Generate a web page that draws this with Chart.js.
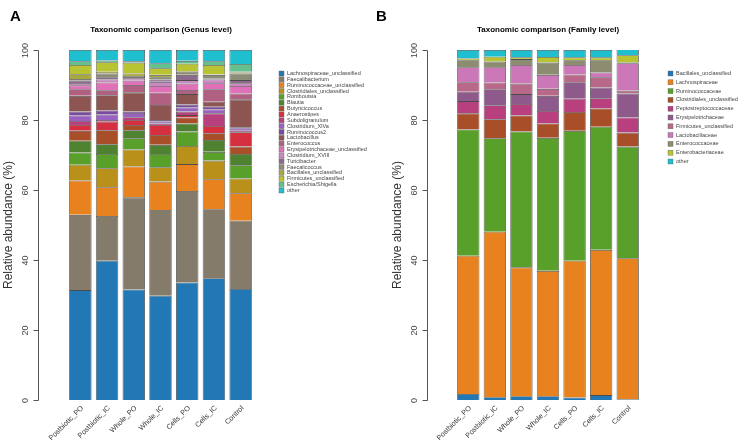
<!DOCTYPE html>
<html><head><meta charset="utf-8">
<script src="https://cdn.jsdelivr.net/npm/chart.js@4.4.0/dist/chart.umd.min.js"></script>
<style>
html,body{margin:0;padding:0;background:#fff;}
#wrap{position:relative;width:740px;height:440px;overflow:hidden;}
canvas{position:absolute;top:0;}
#ca{left:0;} #cb{left:370px;}
</style></head><body>
<div id="wrap"><canvas id="ca" width="370" height="440"></canvas><canvas id="cb" width="370" height="440"></canvas></div>
<script>
const samples = ["Postbiotic_PO","Postbiotic_IC","Whole_PO","Whole_IC","Cells_PO","Cells_IC","Control"];
const yTicks = [0,20,40,60,80,100];

const genusNames = ["Lachnospiraceae_unclassified","Faecalibacterium","Ruminococcaceae_unclassified","Clostridiales_unclassified","Romboutsia","Blautia","Butyricicoccus","Anaerostipes","Subdoligranulum","Clostridium_XlVa","Ruminococcus2","Lactobacillus","Enterococcus","Erysipelotrichaceae_unclassified","Clostridium_XVIII","Turicibacter","Faecalicoccus","Bacillales_unclassified","Firmicutes_unclassified","Escherichia/Shigella","other"];
const genusColors = ["#2278b5","#857b6a","#e8821e","#b8901a","#58a02a","#4e8230","#a84e28","#d63040","#b8407f","#9a62c0","#7a4aa0","#8c5552","#b06080","#e070b8","#c88ac0","#8c6a8c","#8c8c78","#a8a840","#b8c432","#64c08c","#1fbfd0"];

const genusPostbioticPO = [31.4,21.5,9.8,4.5,3.5,3.4,2.8,1.7,1.1,1.6,1.1,4.5,1.9,1.1,0.7,0.6,0.5,1.4,2.6,1.1,3.2];
const genusPostbioticIC = [39.8,12.8,8.2,5.4,4.1,2.8,4.0,2.4,0.5,1.6,1.1,4.4,1.4,2.2,0.9,0.6,1.1,0.5,2.7,0.5,3.0];
const genusWholePO      = [31.6,26.3,8.8,4.9,3.2,2.3,1.5,1.4,0.8,1.2,0.4,5.5,2.1,1.2,0.7,0.4,0.3,0.7,3.1,0.4,3.2];
const genusWholeIC      = [29.8,24.5,8.1,4.1,3.8,2.6,2.8,2.9,0.4,0.6,0.4,4.3,3.5,1.9,1.2,0.7,0.6,0.7,1.9,1.4,3.8];
const genusCellsPO      = [33.6,26.1,7.7,5.2,4.1,2.3,1.7,0.7,1.0,1.2,0.8,3.0,1.2,1.8,1.0,1.5,0.9,0.2,2.1,0.8,3.1];
const genusCellsIC      = [34.8,19.7,8.6,5.3,2.5,3.4,1.9,2.1,3.6,1.1,0.8,1.4,3.6,1.7,1.1,0.2,1.1,0.1,2.7,1.1,3.2];
const genusControl      = [31.7,19.5,7.9,4.2,3.8,3.2,2.1,4.1,0.4,0.6,0.4,8.0,1.7,2.1,0.8,0.9,1.9,0.3,0.2,2.2,4.0];

const familyNames = ["Bacillales_unclassified","Lachnospiraceae","Ruminococcaceae","Clostridiales_unclassified","Peptostreptococcaceae","Erysipelotrichaceae","Firmicutes_unclassified","Lactobacillaceae","Enterococcaceae","Enterobacteriaceae","other"];
const familyColors = ["#2278b5","#e8821e","#58a02a","#a84e28","#b8407f","#8e5a8c","#b86888","#cc78b8","#8c8c70","#b8c432","#1fbfd0"];

const familyPostbioticPO = [1.7,39.5,36.1,4.6,3.5,2.7,2.7,4.3,2.0,0.5,2.4];
const familyPostbioticIC = [0.8,47.3,26.7,5.4,4.0,4.6,1.9,4.4,1.6,1.4,1.9];
const familyWholePO      = [1.1,36.8,38.8,4.6,3.3,2.8,3.0,5.3,1.7,0.5,2.1];
const familyWholeIC      = [1.1,35.8,38.0,4.1,3.6,4.3,2.0,4.0,3.5,1.6,2.0];
const familyCellsPO      = [0.7,39.1,37.1,5.4,3.8,4.7,2.2,2.7,1.4,0.8,2.1];
const familyCellsIC      = [1.4,41.5,35.2,5.2,2.9,3.1,2.9,1.4,3.5,0.8,2.1];
const familyControl      = [0.2,40.3,31.9,4.0,4.3,6.9,0.8,7.8,0.2,2.1,1.7];

const FONT = "'Liberation Sans', Arial, sans-serif";

const decor = {
  id: 'decor',
  afterDraw(chart) {
    const c = chart.config.options.plugins.decor;
    const ctx = chart.ctx;
    const ys = chart.scales.y;
    ctx.save();
    ctx.fillStyle = '#000';
    ctx.font = 'bold 15px ' + FONT;
    ctx.textAlign = 'left'; ctx.textBaseline = 'alphabetic';
    ctx.fillText(c.letter, c.letterX, 21);
    ctx.font = 'bold 8px ' + FONT;
    ctx.textAlign = 'center'; ctx.textBaseline = 'middle';
    ctx.fillText(c.title, c.titleX, 30);
    ctx.strokeStyle = '#555'; ctx.lineWidth = 1;
    const ax = c.axisX + 0.5;
    const y0 = ys.getPixelForValue(yTicks[0]);
    const y1 = ys.getPixelForValue(yTicks[yTicks.length-1]);
    ctx.beginPath(); ctx.moveTo(ax, Math.round(y0)+0.5); ctx.lineTo(ax, Math.round(y1)+0.5); ctx.stroke();
    ctx.fillStyle = '#444';
    ctx.font = '9px ' + FONT;
    yTicks.forEach(v => {
      const y = Math.round(ys.getPixelForValue(v)) + 0.5;
      ctx.beginPath(); ctx.moveTo(ax, y); ctx.lineTo(ax - 5, y); ctx.stroke();
      ctx.save();
      ctx.translate(ax - 13, y);
      ctx.rotate(-Math.PI/2);
      ctx.textAlign = 'center'; ctx.textBaseline = 'middle';
      ctx.fillText(String(v), 0, 0);
      ctx.restore();
    });
    ctx.save();
    ctx.translate(c.axisX - 29, (y0 + y1) / 2);
    ctx.rotate(-Math.PI/2);
    ctx.fillStyle = '#333';
    ctx.font = '12px ' + FONT;
    ctx.textAlign = 'center'; ctx.textBaseline = 'middle';
    ctx.fillText('Relative abundance (%)', 0, 0);
    ctx.restore();
    ctx.font = '5.5px ' + FONT;
    ctx.textAlign = 'left'; ctx.textBaseline = 'middle';
    c.names.forEach((n, i) => {
      const y = c.legTop + i * c.legStep;
      ctx.fillStyle = c.colors[i];
      ctx.fillRect(c.legX, y - 2.5, 5, 5);
      ctx.strokeStyle = '#666'; ctx.lineWidth = 0.4;
      ctx.strokeRect(c.legX, y - 2.5, 5, 5);
      ctx.fillStyle = '#444';
      ctx.fillText(n, c.legX + 8, y);
    });
    ctx.restore();
  }
};

function makeChart(id, names, colors, rows, cfg) {
  const datasets = names.map((n, i) => ({
    label: n,
    data: rows.map(r => r[i]),
    backgroundColor: colors[i],
    borderColor: 'rgba(45,45,45,0.85)',
    borderWidth: 0.8,
    barPercentage: 1,
    categoryPercentage: cfg.catPct
  }));
  return new Chart(document.getElementById(id), {
    type: 'bar',
    data: { labels: samples, datasets },
    options: {
      responsive: false, animation: false,
      layout: { padding: { left: cfg.left, right: cfg.right, top: 50, bottom: 0 } },
      plugins: {
        legend: { display: false }, tooltip: { enabled: false },
        decor: Object.assign({ names, colors }, cfg)
      },
      scales: {
        x: {
          stacked: true,
          grid: { display: false, drawTicks: false }, border: { display: false },
          ticks: { minRotation: 45, maxRotation: 45, autoSkip: false, padding: 4, labelOffset: 2,
                   color: '#333', font: { size: 7.2, family: FONT } },
          afterFit: s => { s.height = 40; }
        },
        y: { stacked: true, min: 0, max: 100, display: false }
      }
    },
    plugins: [decor]
  });
}

makeChart('ca', genusNames, genusColors,
  [genusPostbioticPO, genusPostbioticIC, genusWholePO, genusWholeIC, genusCellsPO, genusCellsIC, genusControl],
  { left: 67, right: 116, catPct: 0.84, letter: 'A', letterX: 10, title: 'Taxonomic comparison (Genus level)',
    titleX: 161, axisX: 38, legX: 279, legTop: 73.5, legStep: 5.85 });

makeChart('cb', familyNames, familyColors,
  [familyPostbioticPO, familyPostbioticIC, familyWholePO, familyWholeIC, familyCellsPO, familyCellsIC, familyControl],
  { left: 85, right: 99, catPct: 0.84, letter: 'B', letterX: 6, title: 'Taxonomic comparison (Family level)',
    titleX: 178, axisX: 57, legX: 298, legTop: 73.5, legStep: 8.8 });
</script>
</body></html>
